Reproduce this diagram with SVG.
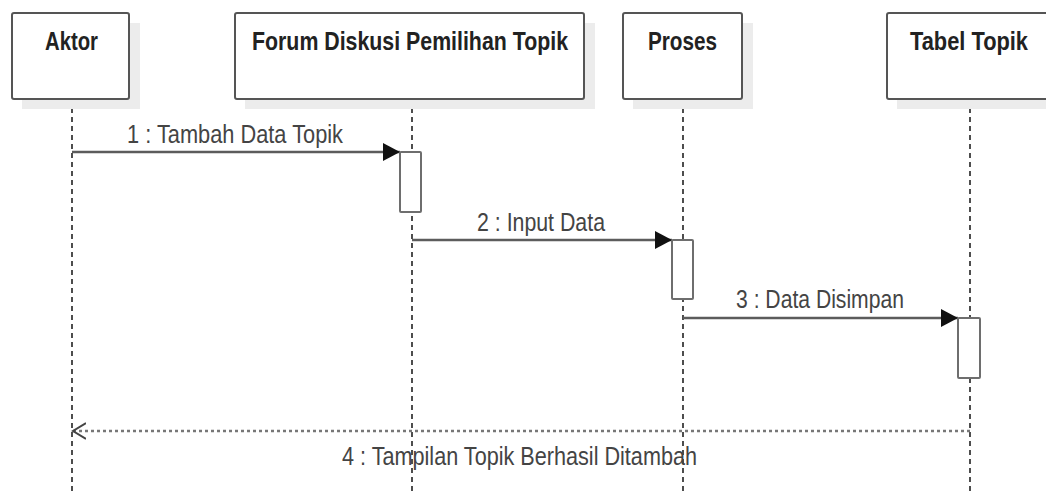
<svg xmlns="http://www.w3.org/2000/svg" width="1046" height="491" viewBox="0 0 1046 491">
  <defs>
    <marker id="filled" markerUnits="userSpaceOnUse" markerWidth="18" markerHeight="18" refX="17" refY="9" orient="auto">
      <path d="M0,0 L17,9 L0,18 Z" fill="#111"/>
    </marker>
    <marker id="open" markerUnits="userSpaceOnUse" markerWidth="16" markerHeight="20" refX="13" refY="9" orient="auto">
      <path d="M0,1 L13,9 L0,17" fill="none" stroke="#444" stroke-width="2"/>
    </marker>
  </defs>
  <style>
    .shadow { fill: #ececec; }
    .box { fill: #fff; stroke: #555; stroke-width: 2; }
    .title { font-family: "Liberation Sans Narrow", "Liberation Sans", Arial, sans-serif; font-weight: bold; font-size: 26px; fill: #222; }
    .life { stroke: #222; stroke-width: 1.6; stroke-dasharray: 5 4; fill: none; }
    .act { fill: #fff; stroke: #6e6e6e; stroke-width: 2; }
    .msg { stroke: #5c5c5c; stroke-width: 2.5; fill: none; }
    .ret { stroke: #777; stroke-width: 2.5; stroke-dasharray: 3 3; fill: none; }
    .label { font-family: "Liberation Sans Narrow", "Liberation Sans", Arial, sans-serif; font-size: 26px; fill: #444; }
  </style>
  <rect width="1046" height="491" fill="#fff"/>

  <!-- lifelines -->
  <g id="lifelines">
    <line class="life" x1="72" y1="99" x2="72" y2="491"/>
    <line class="life" x1="412" y1="99" x2="412" y2="491"/>
    <line class="life" x1="683" y1="99" x2="683" y2="491"/>
    <line class="life" x1="970" y1="99" x2="970" y2="491"/>
  </g>

  <!-- participants -->
  <g id="aktor">
    <rect class="shadow" x="22" y="23" width="118" height="86"/>
    <rect class="box" x="12" y="13" width="117" height="86" rx="2"/>
    <text class="title" x="45" y="50" textLength="53" lengthAdjust="spacingAndGlyphs">Aktor</text>
  </g>
  <g id="forum">
    <rect class="shadow" x="245" y="23" width="350" height="86"/>
    <rect class="box" x="235" y="13" width="349" height="86" rx="2"/>
    <text class="title" x="252" y="50" textLength="316" lengthAdjust="spacingAndGlyphs">Forum Diskusi Pemilihan Topik</text>
  </g>
  <g id="proses">
    <rect class="shadow" x="633" y="23" width="120" height="86"/>
    <rect class="box" x="623" y="13" width="119" height="86" rx="2"/>
    <text class="title" x="648" y="50" textLength="69" lengthAdjust="spacingAndGlyphs">Proses</text>
  </g>
  <g id="tabel-topik">
    <rect class="shadow" x="897" y="23" width="170" height="86"/>
    <rect class="box" x="887" y="13" width="166" height="86" rx="2"/>
    <text class="title" x="910" y="50" textLength="118" lengthAdjust="spacingAndGlyphs">Tabel Topik</text>
  </g>

  <!-- messages -->
  <g id="connectors">
    <line class="msg" x1="72" y1="152" x2="400" y2="152" marker-end="url(#filled)"/>
    <text class="label" x="127" y="143" textLength="216" lengthAdjust="spacingAndGlyphs">1 : Tambah Data Topik</text>

    <line class="msg" x1="412" y1="240" x2="672" y2="240" marker-end="url(#filled)"/>
    <text class="label" x="477" y="231" textLength="128" lengthAdjust="spacingAndGlyphs">2 : Input Data</text>

    <line class="msg" x1="683" y1="318" x2="958" y2="318" marker-end="url(#filled)"/>
    <text class="label" x="736" y="308" textLength="168" lengthAdjust="spacingAndGlyphs">3 : Data Disimpan</text>

    <line class="ret" x1="970" y1="431" x2="73" y2="431" marker-end="url(#open)"/>
    <text class="label" x="342" y="465" textLength="355" lengthAdjust="spacingAndGlyphs">4 : Tampilan Topik Berhasil Ditambah</text>
  </g>

  <!-- activation bars -->
  <g id="activations">
    <rect class="act" x="400" y="152" width="21" height="60" rx="1"/>
    <rect class="act" x="672" y="240" width="21" height="59" rx="1"/>
    <rect class="act" x="958" y="318" width="22" height="60" rx="1"/>
  </g>
</svg>
